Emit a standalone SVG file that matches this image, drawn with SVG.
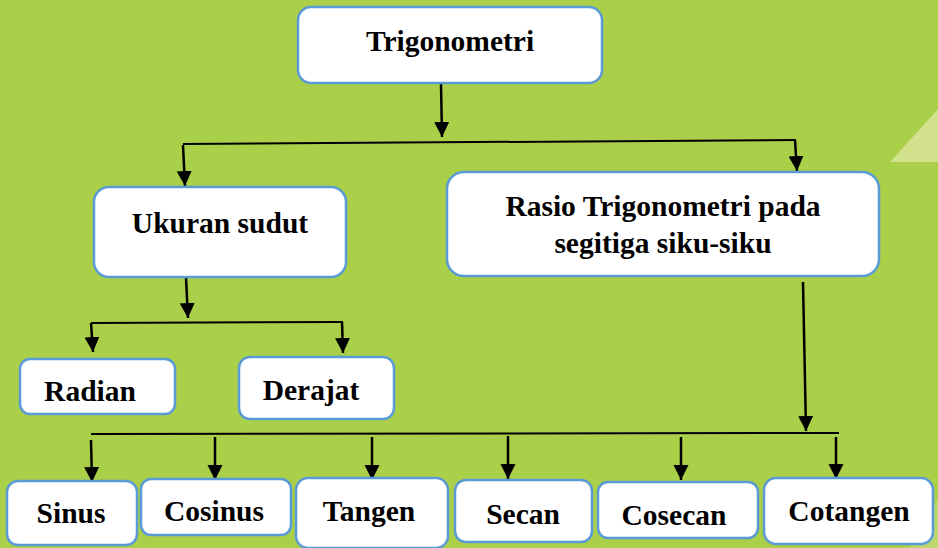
<svg xmlns="http://www.w3.org/2000/svg" width="938" height="548" viewBox="0 0 938 548">
  <style>
    .box { fill: #ffffff; stroke: #5b9bd5; stroke-width: 2.5; }
    .lbl { font-family: "Liberation Serif", "Times New Roman", serif; font-weight: bold; font-size: 29.5px; fill: #000000; text-anchor: middle; }
    .wire { stroke: #000000; stroke-width: 2; fill: none; }
    .arrow { stroke: #000000; stroke-width: 2.5; fill: none; marker-end: url(#head); }
  </style>
  <defs>
    <marker id="head" markerUnits="userSpaceOnUse" markerWidth="16" markerHeight="16" refX="15" refY="7.5" orient="auto">
      <path d="M0,0 L15,7.5 L0,15 z" fill="#000000"/>
    </marker>
  </defs>

  <!-- background -->
  <rect x="0" y="0" width="938" height="548" fill="#aacf48"/>
  <polygon points="890,162 938,109 938,162" fill="#d2e18b"/>
  <polygon points="938,498 938,548 910,548" fill="#bcd86a"/>

  <!-- connectors -->
  <g id="connectors">
    <line class="arrow" x1="441" y1="84" x2="442" y2="137"/>
    <line class="wire" x1="183" y1="144" x2="796" y2="140"/>
    <line class="arrow" x1="183" y1="145" x2="185" y2="186"/>
    <line class="arrow" x1="795" y1="140" x2="797" y2="171"/>

    <line class="arrow" x1="186" y1="278" x2="188" y2="318"/>
    <line class="wire" x1="91" y1="323" x2="343" y2="322"/>
    <line class="arrow" x1="91" y1="323" x2="93" y2="352"/>
    <line class="arrow" x1="342" y1="322" x2="343" y2="353"/>

    <line class="arrow" x1="803" y1="282" x2="806" y2="431"/>
    <line class="wire" x1="91" y1="434" x2="839" y2="433"/>
    <line class="arrow" x1="91" y1="440" x2="92" y2="482"/>
    <line class="arrow" x1="215" y1="437" x2="215" y2="480"/>
    <line class="arrow" x1="372" y1="437" x2="372" y2="480"/>
    <line class="arrow" x1="508" y1="436" x2="508" y2="479"/>
    <line class="arrow" x1="681" y1="437" x2="681" y2="480"/>
    <line class="arrow" x1="836" y1="437" x2="836" y2="479"/>
  </g>

  <!-- nodes -->
  <g id="trigonometri">
    <rect class="box" x="298" y="7" width="304" height="76" rx="13"/>
    <text class="lbl" x="450" y="51">Trigonometri</text>
  </g>
  <g id="ukuran-sudut">
    <rect class="box" x="94" y="187" width="252" height="90" rx="15"/>
    <text class="lbl" x="220" y="233">Ukuran sudut</text>
  </g>
  <g id="rasio">
    <rect class="box" x="447" y="172" width="432" height="104" rx="17"/>
    <text class="lbl" x="663" y="216">Rasio Trigonometri pada</text>
    <text class="lbl" x="663" y="253">segitiga siku-siku</text>
  </g>
  <g id="radian">
    <rect class="box" x="20" y="359" width="155" height="55" rx="10"/>
    <text class="lbl" x="90" y="401">Radian</text>
  </g>
  <g id="derajat">
    <rect class="box" x="239" y="357" width="155" height="62" rx="11"/>
    <text class="lbl" x="311" y="400">Derajat</text>
  </g>
  <g id="sinus">
    <rect class="box" x="7" y="481" width="130" height="64" rx="11"/>
    <text class="lbl" x="71" y="523">Sinus</text>
  </g>
  <g id="cosinus">
    <rect class="box" x="141" y="479" width="150" height="56" rx="10"/>
    <text class="lbl" x="214" y="521">Cosinus</text>
  </g>
  <g id="tangen">
    <rect class="box" x="296" y="478" width="152" height="70" rx="12"/>
    <text class="lbl" x="369" y="521">Tangen</text>
  </g>
  <g id="secan">
    <rect class="box" x="455" y="480" width="137" height="62" rx="11"/>
    <text class="lbl" x="523" y="524">Secan</text>
  </g>
  <g id="cosecan">
    <rect class="box" x="598" y="482" width="160" height="56" rx="10"/>
    <text class="lbl" x="674" y="525">Cosecan</text>
  </g>
  <g id="cotangen">
    <rect class="box" x="764" y="478" width="169" height="66" rx="12"/>
    <text class="lbl" x="849" y="521">Cotangen</text>
  </g>
</svg>
